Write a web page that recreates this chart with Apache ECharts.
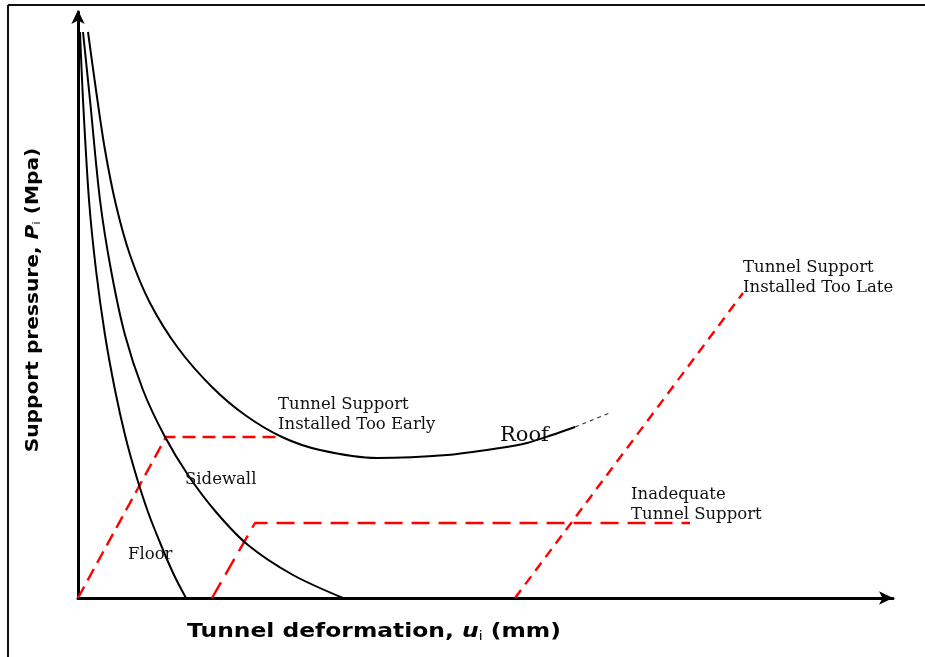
<!DOCTYPE html>
<html>
<head>
<meta charset="utf-8">
<script src="https://cdn.jsdelivr.net/npm/echarts@6/dist/echarts.min.js"></script>
<style>
  html, body { margin: 0; padding: 0; background: #fff; }
  #chart { width: 925px; height: 657px; }
</style>
</head>
<body>
<div id="chart"></div>
<script>
// Ground reaction curves (deformation, pressure) in relative units
const floorCurve = [[2,566],[5,498],[11,398],[18,328],[27,263],[37,208],[47,163],[58,123],[70,86],[83,53],[96,23],[108,0]];
const sidewallCurve = [[5,566],[12,498],[22,398],[33,328],[47,263],[65,208],[86,163],[110,123],[138,86],[170,53],[215,23],[265,0]];
const roofCurve = [[10,566],[18,508],[27,448],[38,393],[52,343],[72,295],[100,250],[134,211],[167,183],[204,161],[242,148],[299,140],[369,143],[422,150],[449,155],[474,163],[497,171]];
const roofExtension = [[497,171],[534,186]];

// Support reaction lines
const supportEarly = [[0,0],[88,161],[204,161]];
const supportInadequate = [[134,0],[177,75],[612,75]];
const supportLate = [[437,0],[665,305]];

const xMax = 815;
const yMax = 586;

const chart = echarts.init(document.getElementById('chart'));

const serif = 'DejaVu Serif';
const sans = 'DejaVu Sans';
const black = '#000';
const red = '#ff0000';

function curve(data, extra) {
  return Object.assign({
    type: 'line', data: data, smooth: 0.3, symbol: 'none',
    lineStyle: { color: black, width: 2 }, z: 3
  }, extra || {});
}
function support(data, dash, width) {
  return {
    type: 'line', data: data, smooth: false, symbol: 'none',
    lineStyle: { color: red, width: width || 2, type: dash }, z: 2
  };
}

function label(text, x, y, size) {
  return {
    type: 'text', left: x, top: y, z: 10,
    style: { text: text, font: (size || 16.5) + 'px "' + serif + '"', fill: '#111', lineHeight: 20 }
  };
}

const titleRich = {
  b: { fontFamily: sans, fontWeight: 'bold', fontSize: 20, fill: black },
  i: { fontFamily: sans, fontWeight: 'bold', fontStyle: 'italic', fontSize: 20, fill: black },
  s: { fontFamily: sans, fontSize: 12, fill: black, padding: [9, 0, 0, 0] }
};
const yTitleRich = {
  b: { fontFamily: sans, fontWeight: 'bold', fontSize: 18, fill: black },
  i: { fontFamily: sans, fontWeight: 'bold', fontStyle: 'italic', fontSize: 18, fill: black },
  s: { fontFamily: sans, fontSize: 11, fill: black, padding: [8, 0, 0, 0] }
};

const axisCommon = {
  type: 'value', min: 0,
  axisLine: { show: true, symbol: ['none', 'arrow'], symbolSize: [10, 14], symbolOffset: [0, 0],
    lineStyle: { color: black, width: 3 } },
  axisTick: { show: false }, axisLabel: { show: false }, splitLine: { show: false }
};

chart.setOption({
  animation: false,
  backgroundColor: '#fff',
  grid: { left: 78, right: 32, top: 12, bottom: 59 },
  xAxis: Object.assign({}, axisCommon, { max: xMax }),
  yAxis: Object.assign({}, axisCommon, { max: yMax,
    axisLine: Object.assign({}, axisCommon.axisLine, { symbolOffset: [0, 2] }) }),
  series: [
    curve(floorCurve),
    curve(sidewallCurve),
    curve(roofCurve),
    curve(roofExtension, { smooth: false, lineStyle: { color: '#333', width: 1.2, type: [4, 4] } }),
    support(supportEarly, [13, 7], 2.4),
    support(supportInadequate, [18, 9], 2.4),
    support(supportLate, [10, 7], 2.4)
  ],
  graphic: [
    // outer frame
    { type: 'line', shape: { x1: 8, y1: 5, x2: 925, y2: 5 }, style: { stroke: '#111', lineWidth: 2 } },
    { type: 'line', shape: { x1: 8, y1: 5, x2: 8, y2: 657 }, style: { stroke: '#111', lineWidth: 2 } },
    // x-axis title
    {
      type: 'text', x: 374, y: 632, scaleX: 1.17, z: 10,
      style: { text: '{b|Tunnel deformation, }{i|u}{s|i}{b| (mm)}', rich: titleRich,
        align: 'center', verticalAlign: 'middle' }
    },
    // y-axis title
    {
      type: 'text', x: 33, y: 300, rotation: Math.PI / 2, scaleX: 1.12, z: 10,
      style: { text: '{b|Support pressure, }{i|P}{s|i}{b| (Mpa)}', rich: yTitleRich,
        align: 'center', verticalAlign: 'middle' }
    },
    label('Tunnel Support\nInstalled Too Early', 278, 395),
    label('Roof', 500, 425, 21),
    label('Sidewall', 185, 470),
    label('Floor', 128, 545),
    label('Inadequate\nTunnel Support', 631, 485),
    label('Tunnel Support\nInstalled Too Late', 743, 258)
  ]
});
</script>
</body>
</html>
